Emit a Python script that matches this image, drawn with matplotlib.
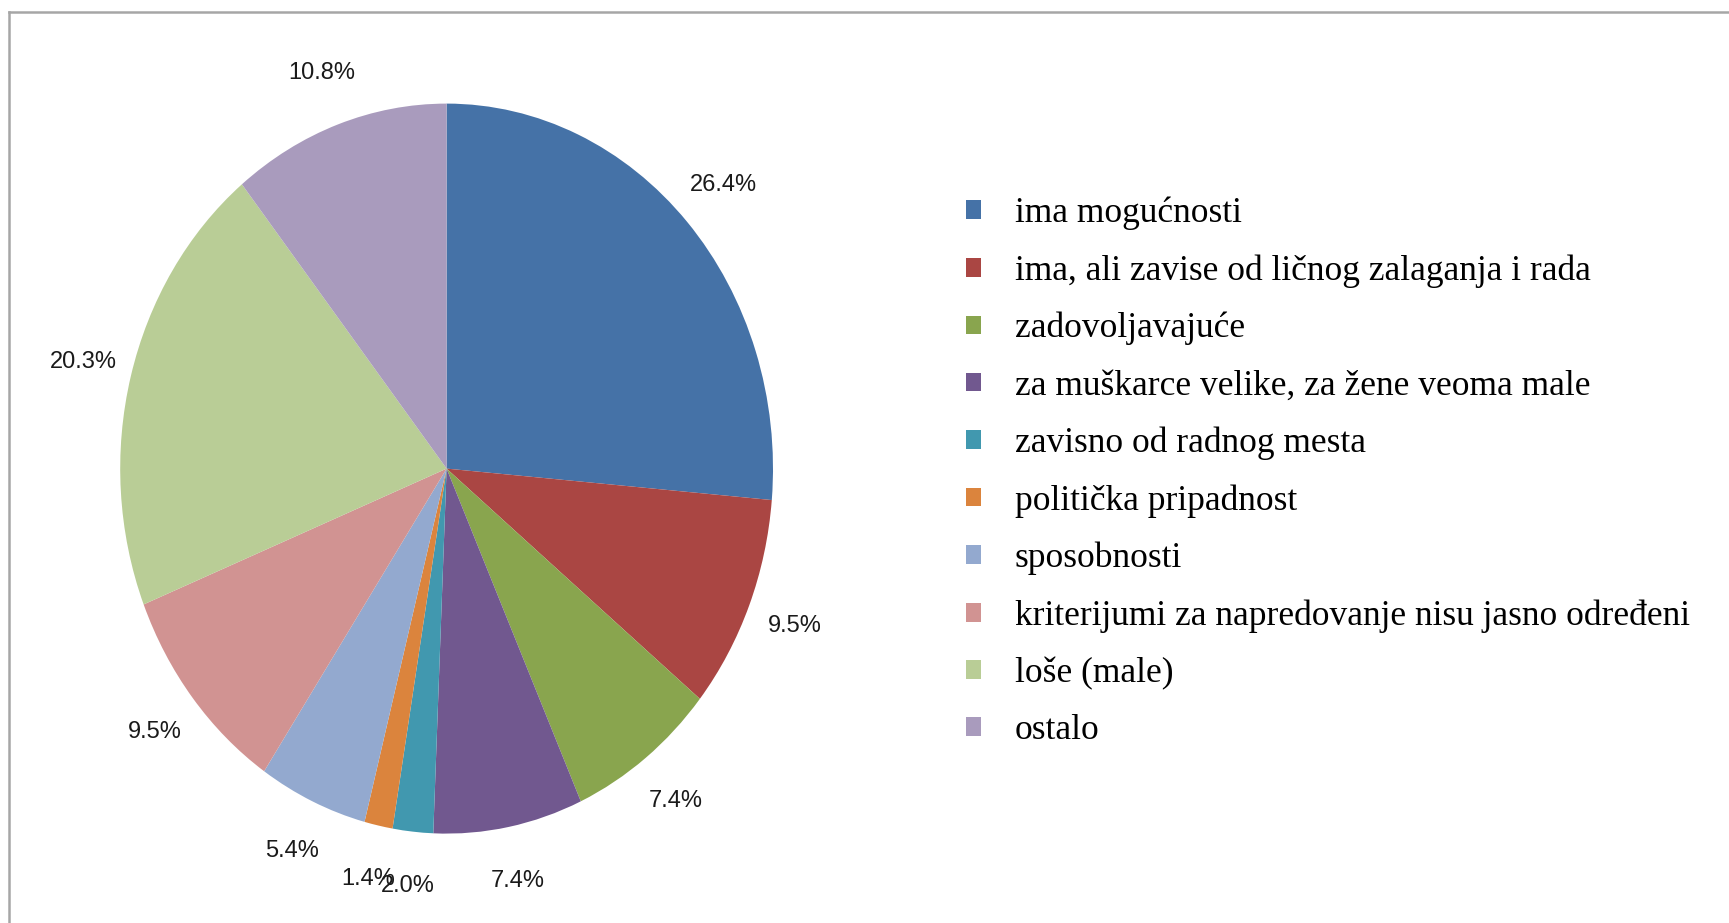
import matplotlib.pyplot as plt
from matplotlib.lines import Line2D

categories = [
    'ima mogućnosti',
    'ima, ali zavise od ličnog zalaganja i rada',
    'zadovoljavajuće',
    'za muškarce velike, za žene veoma male',
    'zavisno od radnog mesta',
    'politička pripadnost',
    'sposobnosti',
    'kriterijumi za napredovanje nisu jasno određeni',
    'loše (male)',
    'ostalo',
]
values = [26.4, 9.5, 7.4, 7.4, 2.0, 1.4, 5.4, 9.5, 20.3, 10.8]
colors = ['#4572A7', '#AA4643', '#89A54E', '#71588F', '#4198AF',
          '#DB843D', '#93A9CF', '#D19392', '#B9CD96', '#A99BBD']

W, H = 1729, 923
fig = plt.figure(figsize=(W / 100, H / 100), dpi=100)

# pie is an ellipse in the reference (rx ~326 px, ry ~365 px)
cx, cy = 446.6, 468.6
rx, ry = 326.4, 365.0
ax = fig.add_axes([(cx - 1.25 * rx) / W, (H - cy - 1.25 * ry) / H,
                   2.5 * rx / W, 2.5 * ry / H])

wedges, texts, autotexts = ax.pie(
    values, colors=colors, startangle=90, counterclock=False,
    autopct='%.1f%%', pctdistance=1.15,
    textprops={'family': 'Liberation Sans', 'fontsize': 17, 'color': '#1a1a1a'},
    wedgeprops={'linewidth': 0})
ax.set_aspect('auto')
ax.set_xlim(-1.25, 1.25)
ax.set_ylim(-1.25, 1.25)

fig.legend(wedges, categories, loc='center left',
           bbox_to_anchor=(966 / W, (H - 472) / H),
           frameon=False, borderpad=0, borderaxespad=0,
           handlelength=0.43, handleheight=0.43, handletextpad=0.95,
           labelspacing=0.68,
           prop={'family': 'Liberation Serif', 'size': 25.5})

# grey chart-area border (top and left visible)
fig.add_artist(Line2D([9 / W, 9 / W], [0, 1 - 12 / H], transform=fig.transFigure,
                      color='#a6a6a6', linewidth=1.8))
fig.add_artist(Line2D([9 / W, 1], [1 - 12 / H, 1 - 12 / H], transform=fig.transFigure,
                      color='#a6a6a6', linewidth=1.8))

fig.savefig('out.png', dpi=100)
